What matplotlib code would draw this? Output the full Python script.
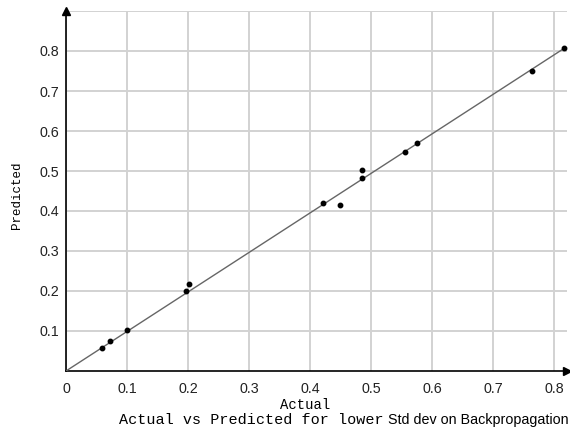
import matplotlib
matplotlib.use("Agg")
import matplotlib.pyplot as plt

# Data
actual = [0.059, 0.072, 0.100, 0.197, 0.202, 0.421, 0.449, 0.486, 0.486,
          0.556, 0.575, 0.764, 0.817]
predicted = [0.058, 0.076, 0.103, 0.199, 0.218, 0.421, 0.414, 0.502, 0.483,
             0.547, 0.571, 0.750, 0.807]
fit_x = [0.0, 0.817]
fit_y = [0.0, 0.807]

x_ticks = [0, 0.1, 0.2, 0.3, 0.4, 0.5, 0.6, 0.7, 0.8]
x_labels = ["0", "0.1", "0.2", "0.3", "0.4", "0.5", "0.6", "0.7", "0.8"]
y_ticks = [0.1, 0.2, 0.3, 0.4, 0.5, 0.6, 0.7, 0.8, 0.9]
y_labels = ["0.1", "0.2", "0.3", "0.4", "0.5", "0.6", "0.7", "0.8", ""]

W, H = 570, 432
fig = plt.figure(figsize=(W / 100, H / 100), dpi=100)
left, right, bottom, top = 66, 567, 371, 10.7
ax = fig.add_axes([left / W, (H - bottom) / H, (right - left) / W, (bottom - top) / H])

ax.set_xlim(0, (right - left) / 610)
ax.set_ylim(0, (bottom - top) / 400)

ax.set_xticks(x_ticks)
ax.set_xticklabels(x_labels, family="Liberation Sans", fontsize=10.3, color="#222222")
ax.set_yticks(y_ticks)
ax.set_yticklabels(y_labels, family="Liberation Sans", fontsize=10.3, color="#222222")
ax.tick_params(axis="both", length=0)
ax.tick_params(axis="x", pad=8)
ax.tick_params(axis="y", pad=5)

ax.grid(True, color="#d2d2d2", linewidth=1.4)
ax.set_axisbelow(True)

for s in ["top", "right"]:
    ax.spines[s].set_visible(False)
for s in ["left", "bottom"]:
    ax.spines[s].set_linewidth(1.2)
    ax.spines[s].set_color("black")

# arrowheads
ax.plot(1, 0, ">", color="black", markersize=6, transform=ax.transAxes, clip_on=False)
ax.plot(0, 1, "^", color="black", markersize=6, transform=ax.transAxes, clip_on=False)

ax.plot(fit_x, fit_y, color="#666666", linewidth=1.0, zorder=3)
ax.plot(actual, predicted, "o", color="black", markersize=3.2, zorder=4)

ax.set_xlabel("Actual", family="Liberation Mono", fontsize=10)
ax.xaxis.set_label_coords((305 - left) / (right - left), -(404.7 - bottom) / (bottom - top))
ax.xaxis.label.set_va("center")
ax.set_ylabel("Predicted", family="Liberation Mono", fontsize=9)
ax.yaxis.set_label_coords(-(left - 16.7) / (right - left), (bottom - 195) / (bottom - top))
ax.yaxis.label.set_va("center")

t1 = fig.text(119 / W, 1 - 420 / H, "Actual vs Predicted for lower",
              family="Liberation Mono", fontsize=10.9, va="center", ha="left")
ax.annotate(" Std dev on Backpropagation", xy=(1, 0.5), xycoords=t1,
            va="center", ha="left", family="Liberation Sans", fontsize=10.3)

fig.savefig("out.png", dpi=100)
